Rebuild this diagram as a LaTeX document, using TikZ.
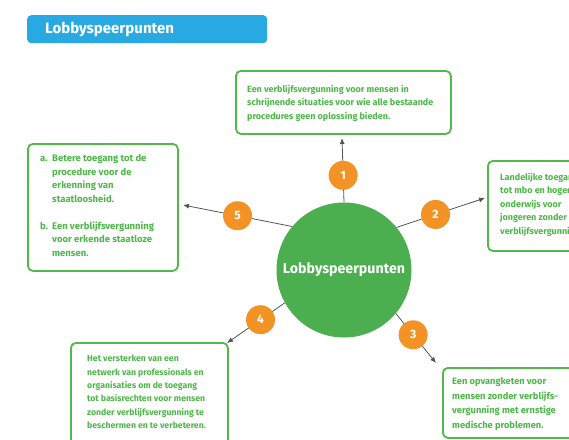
\documentclass[tikz,border=0pt]{standalone}
\usepackage{fontspec}
\setmainfont{Fira Sans}
\usetikzlibrary{arrows.meta}
\definecolor{boxgreen}{HTML}{52B848}
\definecolor{txtgreen}{HTML}{4DB848}
\definecolor{circgreen}{HTML}{4BAE4F}
\definecolor{orng}{HTML}{F39325}
\definecolor{tblue}{HTML}{29A9E1}
\definecolor{lin}{HTML}{555555}
\tikzset{
  gbox/.style={draw=boxgreen, line width=1.8pt, rounded corners=5pt, fill=white},
  gtext/.style={anchor=north west, inner sep=0pt, align=left, text=txtgreen,
    font=\bfseries\fontsize{9}{13.5}\selectfont},
  num/.style={circle, fill=orng, minimum size=29pt, inner sep=0pt, text=white,
    font=\bfseries\fontsize{12}{14}\selectfont},
  conn/.style={draw=lin, line width=0.8pt, -{Latex[length=6pt,width=5pt]}},
}
\begin{document}
\begin{tikzpicture}[x=1pt,y=-1pt]
\useasboundingbox (0,0) rectangle (569,439);
\clip (0,0) rectangle (569,439);
\fill[white] (0,0) rectangle (569,439);
% title
\node[fill=tblue, rounded corners=4pt, anchor=north west, minimum height=28pt,
  text width=204pt, inner xsep=18pt, align=left, text=white,
  font=\bfseries\fontsize{15}{17}\selectfont] (title) at (27,15) {Lobbyspeerpunten};
% boxes
\node[gbox, anchor=north west, minimum width=215pt, minimum height=63pt] (b1) at (235,70) {};
\node[gbox, anchor=north west, minimum width=150pt, minimum height=127pt] (b5) at (27,143) {};
\node[gbox, anchor=north west, minimum width=120pt, minimum height=90pt] (b2) at (487,160) {};
\node[gbox, anchor=north west, minimum width=157pt, minimum height=120pt] (b4) at (70,342) {};
\node[gbox, anchor=north west, minimum width=140pt, minimum height=70pt] (b3) at (442,367) {};
% texts
\node[gtext] (t1) at (247,84.5) {Een verblijfsvergunning voor mensen in\\schrijnende situaties voor wie alle bestaande\\procedures geen oplossing bieden.};
\node[gtext, font=\bfseries\fontsize{9.5}{13.5}\selectfont] (t5) at (40,154.5) {\makebox[12pt][l]{a.}Betere toegang tot de\\\hspace*{12pt}procedure voor de\\\hspace*{12pt}erkenning van\\\hspace*{12pt}staatloosheid.\\[13.5pt]\makebox[12pt][l]{b.}Een verblijfsvergunning\\\hspace*{12pt}voor erkende staatloze\\\hspace*{12pt}mensen.};
\node[gtext] (t2) at (500,172.5) {Landelijke toegang\\tot mbo en hoger\\onderwijs voor\\jongeren zonder\\verblijfsvergunning.};
\node[gtext, font=\bfseries\fontsize{8.7}{13.3}\selectfont] (t4) at (87,355) {Het versterken van een\\netwerk van professionals en\\organisaties om de toegang\\tot basisrechten voor mensen\\zonder verblijfsvergunning te\\beschermen en te verbeteren.};
\node[gtext, font=\bfseries\fontsize{9.3}{14.6}\selectfont] (t3) at (452,377.5) {Een opvangketen voor\\mensen zonder verblijfs-\\vergunning met ernstige\\medische problemen.};
% centre
\node[circle, fill=circgreen, minimum size=135pt, inner sep=0pt, text=white,
  font=\bfseries\fontsize{14.2}{16}\selectfont] (main) at (344,270) {Lobbyspeerpunten};
% arrow tips
\coordinate (e1) at (342,138);
\coordinate (e2) at (485,198);
\coordinate (e3) at (436,363);
\coordinate (e4) at (227,343);
\coordinate (e5) at (183,205);
\draw[conn] (main.90) -- node[num, pos=0.42] (n1) {1} (e1);
\draw[conn] (main.39) -- node[num, pos=0.44] (n2) {2} (e2);
\draw[conn] (main.320) -- node[num, pos=0.43] (n3) {3} (e3);
\draw[conn] (main.209) -- node[num, pos=0.42] (n4) {4} (e4);
\draw[conn] (main.140) -- node[num, pos=0.5] (n5) {5} (e5);
\end{tikzpicture}
\end{document}
